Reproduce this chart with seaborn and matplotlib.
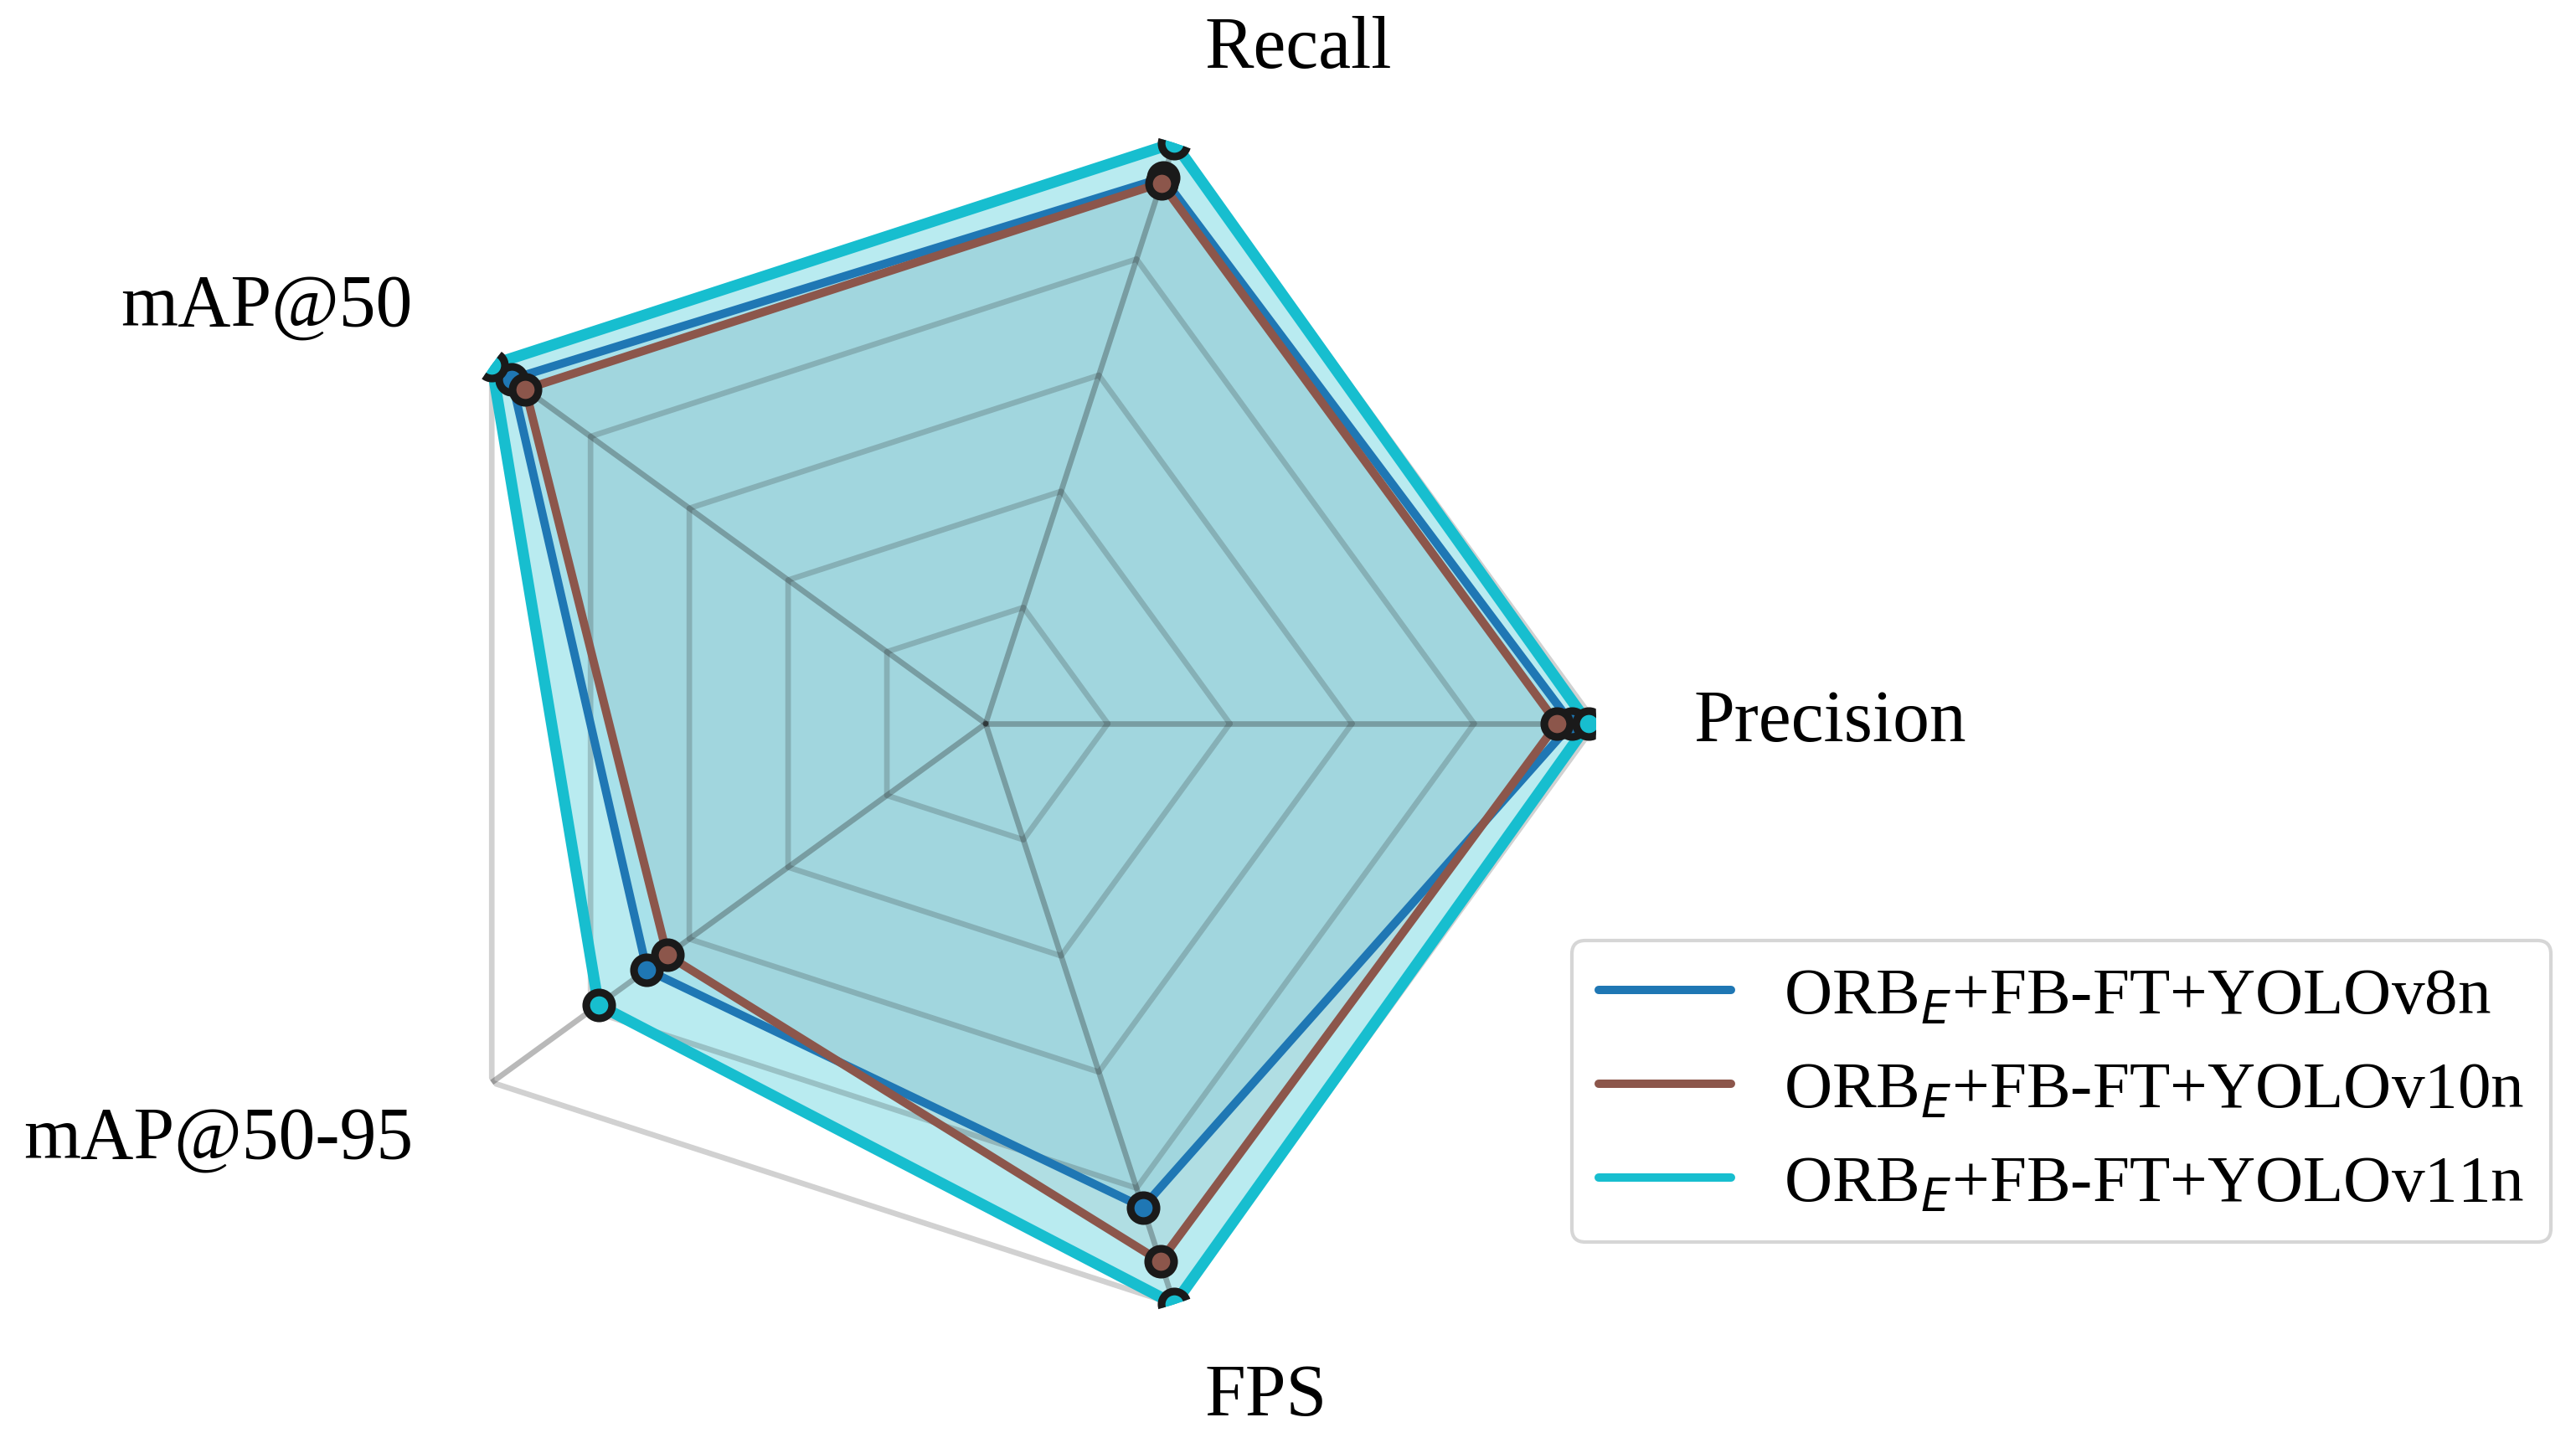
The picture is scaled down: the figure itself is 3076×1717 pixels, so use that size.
import numpy as np
import matplotlib
matplotlib.use("Agg")
import matplotlib.pyplot as plt
import seaborn as sns

# radar chart: ORB_E + FB-FT with three YOLO backbones (normalised metrics)
metrics = ["Precision", "Recall", "mAP@50", "mAP@50-95", "FPS"]
models = ["ORB$_E$+FB-FT+YOLOv8n", "ORB$_E$+FB-FT+YOLOv10n", "ORB$_E$+FB-FT+YOLOv11n"]
yolov8n = [0.960, 0.940, 0.960, 0.686, 0.833]
yolov10n = [0.936, 0.931, 0.932, 0.645, 0.926]
yolov11n = [0.987, 1.000, 1.000, 0.784, 1.000]
grid_levels = [0.2, 0.4, 0.6, 0.8, 1.0]

sns.set_theme(style="white")
plt.rcParams["font.family"] = ["Liberation Serif", "DejaVu Serif"]
plt.rcParams["mathtext.fontset"] = "dejavusans"
plt.rcParams["text.color"] = "black"

pal = sns.color_palette("tab10")
colors = [pal[0], pal[5], pal[9]]
line_w = [2.4, 2.4, 3.2]
fill_a = [0.1, 0.1, 0.3]

angles = np.linspace(0, 2 * np.pi, len(metrics), endpoint=False)
closed = np.append(angles, angles[0])

fig = plt.figure(figsize=(3076 / 300, 1717 / 300), dpi=300)
ax = fig.add_axes([0.14564, 0.07222, 0.47399, 0.84916], projection="polar")
ax.set_ylim(0, 1)
ax.set_xticks([])
ax.set_yticks([])
ax.grid(False)
ax.spines["polar"].set_visible(False)

# pentagon grid + spokes (drawn over fills, under the lines)
for lvl in grid_levels:
    ax.plot(closed, [lvl] * len(closed), color="k", alpha=0.2, lw=1.6, zorder=1.5)
for a in angles:
    ax.plot([a, a], [0, 1], color="k", alpha=0.3, lw=1.6, zorder=1.5)

for i, (name, vals) in enumerate(zip(models, [yolov8n, yolov10n, yolov11n])):
    v = np.append(vals, vals[0])
    ax.fill(closed, v, color=colors[i], alpha=fill_a[i], lw=0, zorder=1)
    ax.plot(closed, v, color=colors[i], lw=line_w[i], label=name, zorder=2)
    sns.scatterplot(x=angles, y=vals, ax=ax, color=colors[i], s=55,
                    edgecolor="k", linewidth=2.2, legend=False, zorder=3)

for a, lab in zip(angles, metrics):
    ha = "left" if np.cos(a) > 0.01 else "right"
    ax.text(a, 1.16, lab, ha=ha, va="center", fontsize=21, color="black")

leg = ax.legend(loc="upper left", bbox_to_anchor=(0.6102, 0.3460),
                bbox_transform=fig.transFigure, fontsize=19,
                borderaxespad=0, frameon=True)
for h in leg.get_lines():
    h.set_linewidth(2.4)
for t in leg.get_texts():
    t.set_color("black")

fig.savefig("out.png", dpi=300)
